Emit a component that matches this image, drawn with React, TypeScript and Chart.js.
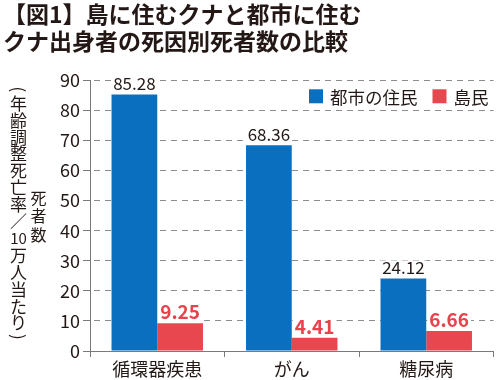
import { useEffect, useRef } from "react";
import { Chart, registerables } from "chart.js";

Chart.register(...registerables);

const titleLines = ["【図1】島に住むクナと都市に住む", "クナ出身者の死因別死者数の比較"];
const categories = ["循環器疾患", "がん", "糖尿病"];
const seriesNames = ["都市の住民", "島民"];
const cityValues = [85.28, 68.36, 24.12];
const islandValues = [9.25, 4.41, 6.66];
const yAxisTitleMain = ["(", "年", "齢", "調", "整", "死", "亡", "率", "／", "10", "万", "人", "当", "た", "り", ")"];
const yAxisTitleSub = ["死", "者", "数"];
const yMin = 0;
const yMax = 90;
const yStep = 10;

const FONT = "'Noto Sans CJK JP', 'Noto Sans', sans-serif";
const TEXT = "#231815";
const BLUE = "#0b6fbf";
const RED = "#e8474f";
const GRID = "#8c8c8c";
const AXIS = "#7a7a7a";

const valueLabelPlugin = {
  id: "valueLabels",
  afterDatasetsDraw(chart: any) {
    const ctx = chart.ctx;
    ctx.save();
    chart.data.datasets.forEach((ds: any, di: number) => {
      const meta = chart.getDatasetMeta(di);
      const isRed = di === 1;
      ctx.font = isRed ? `bold 19px ${FONT}` : `17px ${FONT}`;
      ctx.textAlign = "center";
      ctx.textBaseline = "alphabetic";
      meta.data.forEach((bar: any, i: number) => {
        const txt = (ds.data[i] as number).toFixed(2);
        const w = ctx.measureText(txt).width;
        const baseY = bar.y - 4;
        const h = isRed ? 15 : 13;
        ctx.fillStyle = "#ffffff";
        ctx.fillRect(bar.x - w / 2 - 2, baseY - h - 1, w + 4, h + 3);
        ctx.fillStyle = isRed ? "#e8434c" : TEXT;
        ctx.fillText(txt, bar.x, baseY);
      });
    });
    ctx.restore();
  },
};

const legendPlugin = {
  id: "innerLegend",
  afterDraw(chart: any) {
    const ctx = chart.ctx;
    const area = chart.chartArea;
    ctx.save();
    ctx.font = `17.5px ${FONT}`;
    ctx.textBaseline = "middle";
    ctx.textAlign = "left";
    const cy = area.top + 16;
    let right = area.right - 5;
    const box = 14;
    const ds = chart.data.datasets;
    for (let i = ds.length - 1; i >= 0; i--) {
      const label = ds[i].label as string;
      const w = ctx.measureText(label).width;
      const textX = right - w;
      ctx.fillStyle = TEXT;
      ctx.fillText(label, textX, cy + 1);
      const boxX = textX - 7 - box;
      ctx.fillStyle = ds[i].backgroundColor;
      ctx.fillRect(boxX, cy - box / 2, box, box);
      right = boxX - 15;
    }
    ctx.restore();
  },
};

const verticalTitlePlugin = {
  id: "verticalTitle",
  afterDraw(chart: any) {
    const ctx = chart.ctx;
    const area = chart.chartArea;
    const mid = (area.top + area.bottom) / 2;
    ctx.save();
    ctx.fillStyle = TEXT;
    ctx.textAlign = "center";
    ctx.textBaseline = "middle";
    // main column
    const step1 = 16.9;
    const start1 = mid - 2.5 - (step1 * (yAxisTitleMain.length - 1)) / 2;
    yAxisTitleMain.forEach((ch, i) => {
      const y = start1 + i * step1;
      const x = 18.5;
      if (ch === "(" || ch === ")") {
        ctx.save();
        ctx.font = `17px ${FONT}`;
        ctx.translate(x, y + (ch === "(" ? 3 : -3));
        ctx.rotate(Math.PI / 2);
        ctx.fillText(ch, 0, 0);
        ctx.restore();
      } else if (ch === "10") {
        ctx.font = `15px ${FONT}`;
        ctx.fillText(ch, x, y);
      } else {
        ctx.font = `17px ${FONT}`;
        ctx.fillText(ch, x, y);
      }
    });
    // sub column
    const step2 = 18.5;
    const start2 = mid + 0.5 - (step2 * (yAxisTitleSub.length - 1)) / 2;
    ctx.font = `16px ${FONT}`;
    yAxisTitleSub.forEach((ch, i) => {
      ctx.fillText(ch, 38.5, start2 + i * step2);
    });
    ctx.restore();
  },
};

export default function App() {
  const ref = useRef<HTMLCanvasElement | null>(null);

  useEffect(() => {
    if (!ref.current) return;
    const chart = new Chart(ref.current, {
      type: "bar",
      data: {
        labels: categories,
        datasets: [
          {
            label: seriesNames[0],
            data: cityValues,
            backgroundColor: BLUE,
            categoryPercentage: 0.68,
            barPercentage: 1.0,
          },
          {
            label: seriesNames[1],
            data: islandValues,
            backgroundColor: RED,
            categoryPercentage: 0.68,
            barPercentage: 1.0,
          },
        ],
      },
      options: {
        animation: false,
        responsive: true,
        maintainAspectRatio: false,
        layout: { padding: { left: 3, right: 6.5, top: 0, bottom: 0 } },
        plugins: {
          legend: { display: false },
          tooltip: { enabled: false },
          title: {
            display: true,
            text: titleLines,
            align: "start",
            color: TEXT,
            font: { family: FONT, size: 23, weight: "bold", lineHeight: 1.18 },
            padding: { top: 1, bottom: 25 },
          },
        },
        scales: {
          x: {
            grid: {
              display: true,
              drawOnChartArea: false,
              drawTicks: true,
              tickLength: 6,
              tickColor: AXIS,
              color: AXIS,
            },
            border: { display: true, color: AXIS, width: 1 },
            ticks: {
              color: TEXT,
              font: { family: FONT, size: 18 },
              padding: 1,
            },
            afterFit(scale: any) {
              scale.height = 29;
            },
          },
          y: {
            min: yMin,
            max: yMax,
            ticks: {
              stepSize: yStep,
              color: TEXT,
              font: { family: FONT, size: 18 },
              padding: 3,
            },
            grid: {
              color: GRID,
              lineWidth: 1,
              drawTicks: true,
              tickLength: 7,
              tickColor: AXIS,
              tickBorderDash: [],
            },
            border: { display: true, color: AXIS, width: 1, dash: [6, 5], dashOffset: 8 },
            afterFit(scale: any) {
              scale.width = 87;
            },
          },
        },
      },
      plugins: [valueLabelPlugin, legendPlugin, verticalTitlePlugin],
    });
    return () => chart.destroy();
  }, []);

  return (
    <div style={{ position: "fixed", left: 0, top: 0, width: 500, height: 380, background: "#fff" }}>
      <canvas ref={ref} />
    </div>
  );
}
